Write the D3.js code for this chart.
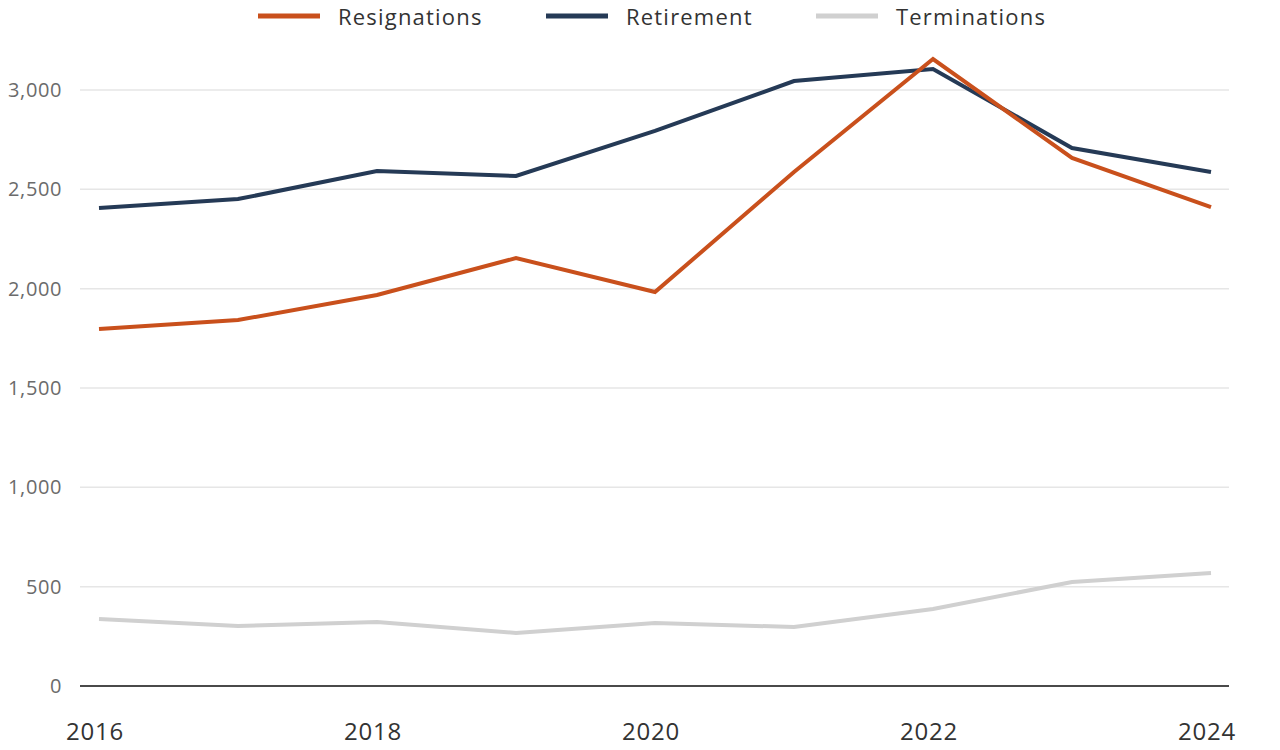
<!DOCTYPE html>
<html>
<head>
<meta charset="utf-8">
<script src="https://cdn.jsdelivr.net/npm/d3@7"></script>
<style>
  html, body { margin: 0; padding: 0; background: #fff; }
  svg { display: block; font-family: 'Open Sans', Lato, sans-serif; }
</style>
</head>
<body>
<div id="chart"></div>
<script>
const years = [2016, 2017, 2018, 2019, 2020, 2021, 2022, 2023, 2024]
const resignations = [1797, 1842, 1968, 2154, 1983, 2587, 3156, 2658, 2411]
const retirement = [2406, 2451, 2592, 2567, 2794, 3045, 3106, 2708, 2587]
const terminations = [337, 302, 322, 267, 317, 297, 388, 523, 569]
const yTicks = [0, 500, 1000, 1500, 2000, 2500, 3000]
const xTicks = [2016, 2018, 2020, 2022, 2024]

const seriesList = [
  { name: 'Resignations', values: resignations, color: '#c9501c' },
  { name: 'Retirement', values: retirement, color: '#253a56' },
  { name: 'Terminations', values: terminations, color: '#d0d0d0' }
]

const width = 1280
const height = 750
const svg = d3.select('#chart').append('svg').attr('width', width).attr('height', height)

const x = d3.scaleLinear().domain([2016, 2024]).range([99, 1211])
const y = d3.scaleLinear().domain([0, 3000]).range([686, 90])

// gridlines
svg.append('g')
  .selectAll('line')
  .data(yTicks.filter((d) => d > 0))
  .enter()
  .append('line')
  .attr('x1', 80)
  .attr('x2', 1229)
  .attr('y1', (d) => y(d))
  .attr('y2', (d) => y(d))
  .attr('stroke', '#e6e6e6')
  .attr('stroke-width', 1.5)

// y labels
svg.append('g')
  .selectAll('text')
  .data(yTicks)
  .enter()
  .append('text')
  .attr('x', 62)
  .attr('y', (d) => y(d))
  .attr('dy', '0.35em')
  .attr('text-anchor', 'end')
  .attr('fill', '#6b6b6b')
  .style('font-size', '20px')
  .style('letter-spacing', '0.6px')
  .text((d) => d3.format(',')(d))

// zero line
svg.append('line')
  .attr('x1', 80)
  .attr('x2', 1229)
  .attr('y1', y(0))
  .attr('y2', y(0))
  .attr('stroke', '#4a4a4a')
  .attr('stroke-width', 2)

// x labels
svg.append('g')
  .selectAll('text')
  .data(xTicks)
  .enter()
  .append('text')
  .attr('x', (d) => x(d) - 4)
  .attr('y', 740)
  .attr('text-anchor', 'middle')
  .attr('fill', '#333')
  .style('font-size', '24px')
  .style('letter-spacing', '0.8px')
  .text((d) => d)

const line = d3.line()
  .x((d, i) => x(years[i]))
  .y((d) => y(d))

// draw terminations first so the others sit on top
svg.append('g')
  .selectAll('path')
  .data(seriesList.slice().reverse())
  .enter()
  .append('path')
  .attr('d', (d) => line(d.values))
  .attr('fill', 'none')
  .attr('stroke', (d) => d.color)
  .attr('stroke-width', 4)
  .attr('stroke-linejoin', 'miter')

// legend
const legendX = [258, 546, 816]
const legend = svg.append('g')
  .selectAll('g')
  .data(seriesList)
  .enter()
  .append('g')
  .attr('transform', (d, i) => `translate(${legendX[i]}, 16)`)
legend.append('line')
  .attr('x1', 0)
  .attr('x2', 62)
  .attr('stroke', (d) => d.color)
  .attr('stroke-width', 5)
legend.append('text')
  .attr('x', 80)
  .attr('y', 9)
  .attr('fill', '#333')
  .style('font-size', '22px')
  .style('letter-spacing', '1.2px')
  .text((d) => d.name)
</script>
</body>
</html>
